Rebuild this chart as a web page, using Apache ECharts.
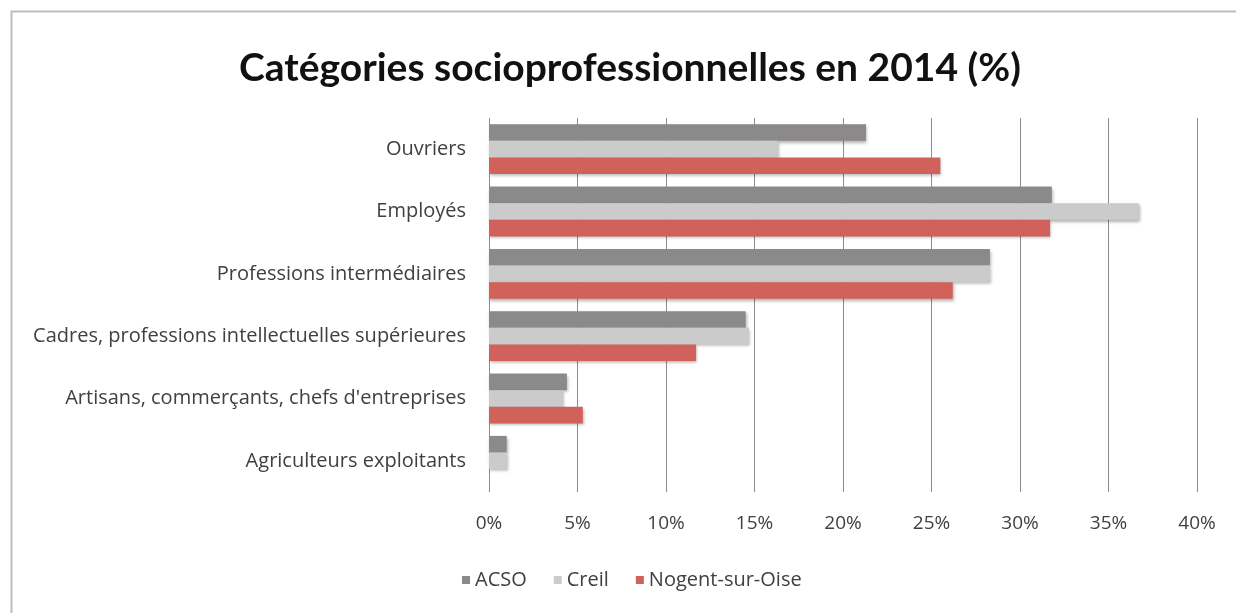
<!DOCTYPE html>
<html>
<head>
<meta charset="utf-8">
<script src="https://cdn.jsdelivr.net/npm/echarts@6/dist/echarts.min.js"></script>
<style>
html,body{margin:0;padding:0;background:#fff;}
#c{width:1236px;height:613px;}
</style>
</head>
<body>
<div id="c"></div>
<script>
var categories = ["Ouvriers", "Employés", "Professions intermédiaires", "Cadres, professions intellectuelles supérieures", "Artisans, commerçants, chefs d'entreprises", "Agriculteurs exploitants"];
var seriesNames = ["ACSO", "Creil", "Nogent-sur-Oise"];
var acso = [21.3, 31.8, 28.3, 14.5, 4.4, 1.0];
var creil = [16.3, 36.7, 28.3, 14.7, 4.2, 1.0];
var nogent = [25.5, 31.7, 26.2, 11.7, 5.3, 0];
var xTicks = [0, 5, 10, 15, 20, 25, 30, 35, 40];

var colors = ["#8b898a", "#cbcbcb", "#d0625b"];
var values = [acso, creil, nogent];
var font = "Lato, 'Open Sans', sans-serif";
var labelFont = "'Open Sans', Lato, sans-serif";

var chart = echarts.init(document.getElementById('c'), null, {renderer: 'canvas'});
chart.setOption({
  animation: false,
  backgroundColor: '#fff',
  title: {
    text: 'Catégories socioprofessionnelles en 2014 (%)',
    left: 234,
    top: 44,
    textStyle: {fontFamily: font, fontSize: 39, fontWeight: 'bold', color: '#111'}
  },
  legend: {
    left: 457,
    top: 565,
    itemWidth: 8,
    itemHeight: 8,
    itemGap: 27,
    icon: 'rect',
    data: seriesNames,
    textStyle: {fontFamily: labelFont, fontSize: 20, color: '#404040', padding: [0,0,0,0]}
  },
  grid: {left: 489, right: 39, top: 118, bottom: 121, containLabel: false},
  xAxis: {
    type: 'value',
    min: xTicks[0],
    max: xTicks[xTicks.length - 1],
    interval: 5,
    axisLine: {show: false},
    axisTick: {show: false},
    splitLine: {show: true, lineStyle: {color: '#8c8c8c', width: 1}},
    axisLabel: {
      formatter: function (v) { return v + '%'; },
      fontFamily: labelFont, fontSize: 19, color: '#404040', margin: 22
    }
  },
  yAxis: {
    type: 'category',
    inverse: true,
    data: categories,
    axisLine: {show: false},
    axisTick: {show: false},
    axisLabel: {fontFamily: labelFont, fontSize: 20, color: '#404040', margin: 23}
  },
  series: seriesNames.map(function (n, i) {
    return {
      name: n,
      type: 'bar',
      data: values[i],
      barGap: '0%',
      barCategoryGap: '20%',
      itemStyle: {
        color: colors[i],
        shadowColor: 'rgba(0,0,0,0.3)',
        shadowBlur: 3,
        shadowOffsetX: 1,
        shadowOffsetY: 2
      }
    };
  }),
  graphic: [{
    type: 'polyline',
    shape: {points: [[11.5, 613], [11.5, 11.5], [1236, 11.5]]},
    style: {stroke: '#bdbdbd', lineWidth: 2, fill: null}
  }]
});
</script>
</body>
</html>
